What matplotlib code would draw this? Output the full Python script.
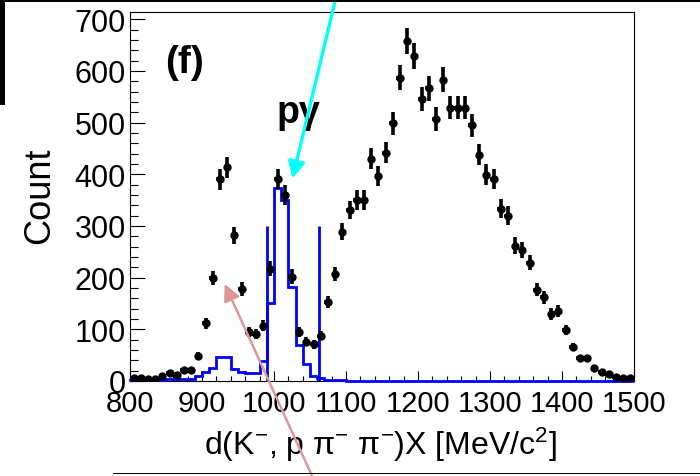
import numpy as np
import matplotlib
matplotlib.use("Agg")
import matplotlib.pyplot as plt
from matplotlib.patches import FancyArrowPatch, Rectangle

plt.rcParams['font.family'] = ['Liberation Sans', 'DejaVu Sans']
plt.rcParams['mathtext.fontset'] = 'custom'
plt.rcParams['mathtext.rm'] = 'Liberation Sans'
plt.rcParams['mathtext.it'] = 'Liberation Sans:italic'

# 10 MeV bins from 800 to 1500
bin_edges = np.arange(800, 1501, 10)
bin_centers = bin_edges[:-1] + 5

# missing mass spectrum (data points)
counts = np.array([
    5, 5, 4, 4, 9, 15, 11, 21, 21, 49,
    112, 199, 390, 414, 282, 178, 94, 91, 107, 217,
    391, 360, 202, 95, 76, 71, 88, 153, 207, 289,
    331, 350, 350, 430, 397, 442, 499, 587, 658, 629,
    545, 566, 507, 583, 529, 529, 529, 495, 438, 399,
    391, 333, 320, 262, 253, 229, 177, 162, 130, 135,
    99, 66, 44, 44, 25, 18, 13, 7, 6, 5,
])

# p gamma contribution (blue histogram)
pgamma = np.array([
    1, 1, 1, 1, 1, 4, 4, 4, 4, 9,
    17, 25, 46, 46, 23, 18, 15, 15, 39, 150,
    373, 350, 182, 69, 33, 10, 5, 2, 1, 1,
    0, 0, 0, 0, 0, 0, 0, 0, 0, 0,
    0, 0, 0, 0, 0, 0, 0, 0, 0, 0,
    0, 0, 0, 0, 0, 0, 0, 0, 0, 0,
    0, 0, 0, 0, 0, 0, 0, 0, 0, 0,
])

# selection window lines
cut_lines = [990, 1062]
cut_height = 300

W, H = 700, 477
fig = plt.figure(figsize=(W / 100, H / 100), dpi=100)
ax = fig.add_axes([130 / W, 1 - 382 / H, 504 / W, 369 / H])


def px(x, y):
    return (x / W, 1 - y / H)


ax.stairs(pgamma, bin_edges, color='#0000ff', lw=2.0, zorder=4, clip_on=False)
ax.vlines(cut_lines, 0, cut_height, color='#0000ff', lw=2.0, zorder=4)
ax.errorbar(bin_centers, counts, xerr=5, yerr=np.sqrt(counts), fmt='o',
            color='black', ms=5, elinewidth=2.6, capsize=0, zorder=5)

ax.set_xlim(800, 1500)
ax.set_ylim(0, 714)
ax.set_xticks(np.arange(800, 1501, 100))
ax.set_xticks(np.arange(800, 1501, 20), minor=True)
ax.set_yticks(np.arange(0, 701, 100))
ax.set_yticks(np.arange(0, 701, 20), minor=True)

ax.tick_params(axis='x', which='major', direction='in', length=7.5, width=0.8,
               labelsize=21, pad=6)
ax.tick_params(axis='x', which='minor', direction='in', length=3.8, width=0.8)
ax.tick_params(axis='y', which='major', direction='in', length=10.8, width=0.8,
               labelsize=22, pad=3)
ax.tick_params(axis='y', which='minor', direction='in', length=5.4, width=0.8)
for s in ax.spines.values():
    s.set_linewidth(0.8)

ax.set_xlabel(r'd(K$^{-}$, p π$^{-}$ π$^{-}$)X [MeV/c$^{2}$]', fontsize=23, va='center')
ax.xaxis.set_label_coords((380 - 130) / 504, (382 - 445) / 369)
ax.set_ylabel('Count', fontsize=26, va='center')
ax.yaxis.set_label_coords((40 - 130) / 504, (382 - 196) / 369)

ax.text((165 - 130) / 504, (382 - 73) / 369, '(f)', transform=ax.transAxes,
        fontsize=28, fontweight='bold', ha='left', va='baseline')
ax.text((277 - 130) / 504, (382 - 123) / 369, 'pγ', transform=ax.transAxes,
        fontsize=27, fontweight='bold', ha='left', va='baseline')

# arrows pointing at the peaks
fig.add_artist(FancyArrowPatch(px(336, -2), px(292.5, 179.5), transform=fig.transFigure,
                               arrowstyle='-|>,head_length=10,head_width=5',
                               color='#00ffff', lw=2.4, shrinkA=0, shrinkB=0))
fig.add_artist(FancyArrowPatch(px(313, 479), px(224.7, 285), transform=fig.transFigure,
                               arrowstyle='-|>,head_length=10,head_width=5',
                               color='#dc9797', lw=1.8, shrinkA=0, shrinkB=0))

# panel frame pieces
fig.add_artist(Rectangle(px(0, 3), 1, 3 / H, transform=fig.transFigure,
                         color='black', lw=0))
fig.add_artist(Rectangle(px(0, 106), 5 / W, 106 / H, transform=fig.transFigure,
                         color='black', lw=0))
fig.add_artist(Rectangle(px(113, 475), 1, 1.5 / H, transform=fig.transFigure,
                         color='black', lw=0))

fig.savefig('out.png', dpi=100)
